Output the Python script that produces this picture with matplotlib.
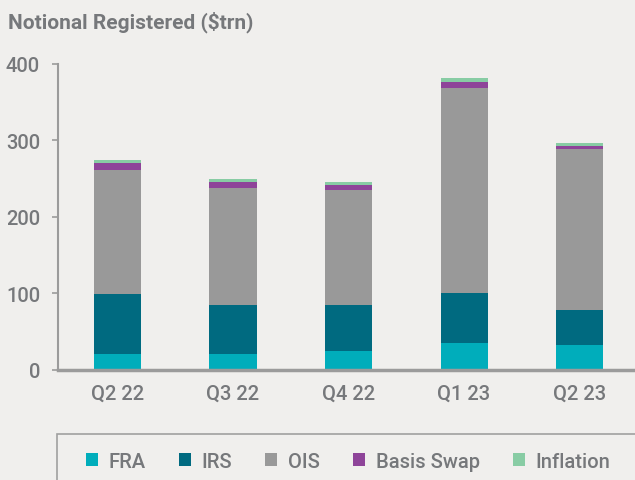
import matplotlib
matplotlib.use("Agg")
import matplotlib.pyplot as plt
from matplotlib.patches import Rectangle, Patch
import numpy as np

categories = ["Q2 22", "Q3 22", "Q4 22", "Q1 23", "Q2 23"]
fra = [20.5, 20.5, 24.5, 35, 32]
irs = [78.5, 64, 60, 65, 46]
ois = [162, 153, 150.5, 268, 210.5]
basis = [9, 7.5, 6.5, 8, 4]
inflation = [4, 4, 4, 5, 3.5]
series_names = ["FRA", "IRS", "OIS", "Basis Swap", "Inflation"]
yticks = [0, 100, 200, 300, 400]

colors = ["#00adbb", "#006a80", "#999999", "#8e4499", "#88cca4"]
bg = "#f0efed"
txt = "#76787b"
axc = "#9b9b9b"

plt.rcParams['font.family'] = ['Roboto', 'DejaVu Sans']

fig = plt.figure(figsize=(6.35, 4.81), dpi=100, facecolor=bg)
ax = fig.add_axes([58/635, 1-370.7/481, 1-58/635, (370.7-64.7)/481])
ax.set_facecolor(bg)

x = np.arange(len(categories))
bottom = np.zeros(len(categories))
for vals, c, name in zip([fra, irs, ois, basis, inflation], colors, series_names):
    ax.bar(x, vals, width=0.407, bottom=bottom, color=c, label=name, zorder=2)
    bottom += np.array(vals)

ax.set_xlim(-0.515, 4.48)
ax.set_ylim(0, 400)
ax.set_yticks(yticks)
ax.set_xticks(x)
ax.set_xticklabels(categories)

for s in ["top", "right"]:
    ax.spines[s].set_visible(False)
ax.spines["left"].set_color(axc)
ax.spines["left"].set_linewidth(1.5)
ax.spines["bottom"].set_color(axc)
ax.spines["bottom"].set_linewidth(2.5)
ax.spines["bottom"].set_zorder(3)

ax.tick_params(axis="y", direction="out", length=4.3, width=1.2, color=axc,
               labelcolor=txt, labelsize=14.5, pad=8.6)
ax.tick_params(axis="x", length=0, labelcolor=txt, labelsize=14.5, pad=10)
for lab in ax.get_xticklabels() + ax.get_yticklabels():
    lab.set_fontweight("medium")

fig.text(8/635, 1-22/481, "Notional Registered ($trn)", color=txt, fontsize=15,
         fontweight="semibold", va="center", ha="left")

# legend box
fig.patches.append(Rectangle((57/635, -0.05), 1.0, (481-435)/481 + 0.05,
                             transform=fig.transFigure, facecolor=bg,
                             edgecolor="#a0a0a0", linewidth=1.2))
handles = [Patch(facecolor=c, edgecolor="none") for c in colors]
leg = fig.legend(handles, series_names, loc="center left",
                 bbox_to_anchor=(86/635, 1-462/481), ncol=5, frameon=False,
                 prop={"size": 14.5, "weight": "medium"},
                 handlelength=0.6, handleheight=0.6,
                 handletextpad=0.53, columnspacing=1.64, borderaxespad=0,
                 borderpad=0)
for t in leg.get_texts():
    t.set_color(txt)

fig.savefig("out.png", dpi=100, facecolor=bg)
